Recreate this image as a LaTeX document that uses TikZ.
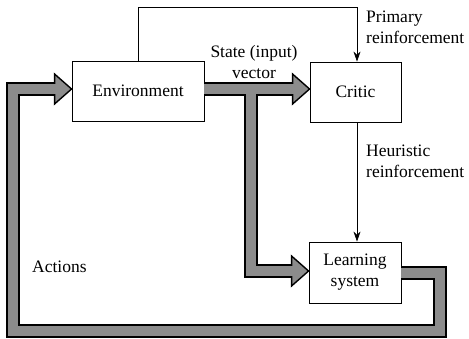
\documentclass[tikz,border=0pt]{standalone}
\usepackage{fontspec}
\setmainfont{Liberation Serif}
\usetikzlibrary{arrows.meta}
\definecolor{bargray}{RGB}{140,140,140}
\begin{document}
\begin{tikzpicture}[x=1pt,y=-1pt,
  box/.style={draw, line width=0.9pt, inner sep=0pt, align=center},
  lbl/.style={inner sep=0pt, align=left},
  thinarrow/.style={line width=0.7pt, -{Stealth[length=10pt,width=7pt]}},
  barout/.style={line width=13.6pt, black, line join=miter},
  barin/.style={line width=10.6pt, bargray, line join=miter},
  headstyle/.style={fill=bargray, draw=black, line width=1.4pt, line join=miter}
]
\useasboundingbox (0,0) rectangle (469,338);
\fontsize{17.5}{21}\selectfont

\node[box, minimum width=132pt, minimum height=60pt] (env) at (138,91) {Environment};
\node[box, minimum width=91pt, minimum height=60pt] (critic) at (355.5,92) {Critic};
\node[box, minimum width=92pt, minimum height=61pt] (ls) at (355,272.5) {Learning\\system};

% coordinates for thick arrows
\coordinate (fwdStart) at ([yshift=2pt]env.east);
\coordinate (cTip) at ([yshift=3pt]critic.west);
\coordinate (cBase) at ([xshift=-17pt]cTip);
\coordinate (jn) at (251,89);
\coordinate (lsTip) at ([yshift=1.5pt]ls.west);
\coordinate (lsBase) at ([xshift=-17pt]lsTip);
\coordinate (lsOut) at ([yshift=-0.5pt]ls.east);
\coordinate (c1) at (440,273);
\coordinate (c2) at (440,331);
\coordinate (c3) at (13,331);
\coordinate (c4) at (13,89);
\coordinate (eTip) at ([yshift=2pt]env.west);
\coordinate (eBase) at ([xshift=-17pt]eTip);

% outline layer
\draw[barout] (fwdStart) -- (cBase);
\draw[barout] (jn) |- (lsBase);
\draw[barout] (lsOut) -- (c1) -- (c2) -- (c3) -- (c4) -- (eBase);

% heads
\draw[headstyle] (cTip) -- ([yshift=15pt]cBase) -- ([yshift=-15pt]cBase) -- cycle;
\draw[headstyle] (lsTip) -- ([yshift=15pt]lsBase) -- ([yshift=-15pt]lsBase) -- cycle;
\draw[headstyle] (eTip) -- ([yshift=15pt]eBase) -- ([yshift=-15pt]eBase) -- cycle;

% fill layer
\draw[barin] ([xshift=-0.6pt]fwdStart) -- ([xshift=2pt]cBase);
\draw[barin] (jn) |- ([xshift=2pt]lsBase);
\draw[barin] ([xshift=-0.6pt]lsOut) -- (c1) -- (c2) -- (c3) -- (c4) -- ([xshift=2pt]eBase);

% thin arrows
\coordinate (topc) at (357,7);
\draw[thinarrow] (env.north) |- (topc) -- ([xshift=1.5pt]critic.north);
\draw[thinarrow] ([xshift=1.5pt]critic.south) -- ([xshift=2pt]ls.north);

% labels
\node[lbl, align=center] (state) at (254,62) {State (input)\\vector};
\node[lbl, anchor=north west] (prim) at (366,11) {Primary\\reinforcement};
\node[lbl, anchor=north west] (heur) at (366,145) {Heuristic\\reinforcement};
\node[lbl, anchor=base west] (act) at (32,272) {Actions};
\end{tikzpicture}
\end{document}
